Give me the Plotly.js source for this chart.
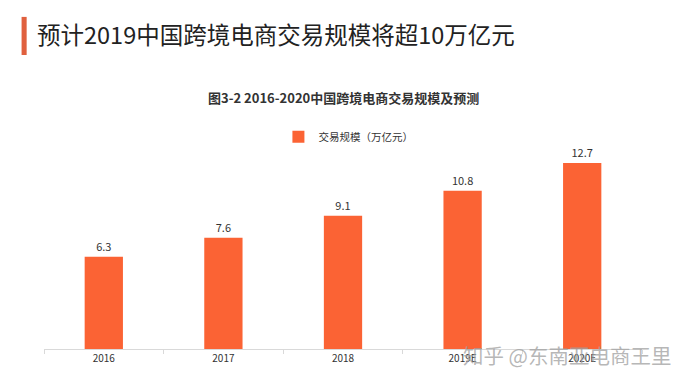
<!DOCTYPE html>
<html>
<head>
<meta charset="utf-8">
<script src="https://cdn.plot.ly/plotly-3.0.1.min.js"></script>
<style>html,body{margin:0;padding:0;background:#fff;}#chart{width:685px;height:388px;}</style>
</head>
<body>
<div id="chart"></div>
<script>
const categories = ["2016", "2017", "2018", "2019E", "2020E"];
const values = [6.3, 7.6, 9.1, 10.8, 12.7];
const valueLabels = ["6.3", "7.6", "9.1", "10.8", "12.7"];
const seriesName = "交易规模（万亿元）";
const mainTitle = "预计2019中国跨境电商交易规模将超10万亿元";
const subTitle = "图3-2 2016-2020中国跨境电商交易规模及预测";
const watermark = "知乎 @东南亚电商王里";

const FONT = '"Noto Sans CJK SC", "Noto Sans", sans-serif';

const trace = {
  type: "bar",
  x: categories,
  y: values,
  name: seriesName,
  text: valueLabels,
  textposition: "outside",
  textfont: {family: FONT, size: 11, color: "#333"},
  cliponaxis: false,
  marker: {color: "#fb6334"},
  showlegend: true
};

const layout = {
  width: 685,
  height: 388,
  margin: {l: 44, r: 43, t: 144, b: 39},
  paper_bgcolor: "#ffffff",
  plot_bgcolor: "#ffffff",
  font: {family: FONT, color: "#333"},
  bargap: 0.68,
  xaxis: {
    type: "category",
    showline: true,
    linecolor: "#d9d9d9",
    linewidth: 1,
    ticks: "outside",
    tickson: "boundaries",
    ticklen: 4,
    tickcolor: "#d9d9d9",
    showgrid: false,
    tickfont: {family: FONT, size: 10, color: "#333"},
    fixedrange: true
  },
  yaxis: {
    range: [0, 14],
    visible: false,
    showgrid: false,
    zeroline: false,
    fixedrange: true
  },
  legend: {
    orientation: "h",
    x: 0.392, xanchor: "left",
    y: 1.035, yanchor: "middle",
    font: {family: FONT, size: 10.5, color: "#333"},
    itemwidth: 30,
    bgcolor: "rgba(0,0,0,0)"
  },
  shapes: [{
    type: "rect", xref: "paper", yref: "paper",
    x0: -0.0375, x1: -0.029, y0: 1.434, y1: 1.62,
    fillcolor: "#e0603e", line: {width: 0}
  }],
  annotations: [
    {text: mainTitle, xref: "paper", yref: "paper", x: -0.0157, y: 1.535,
     xanchor: "left", yanchor: "middle", showarrow: false,
     font: {family: FONT, size: 23.5, color: "#222"}},
    {text: "<b>" + subTitle + "</b>", xref: "paper", yref: "paper", x: 0.5015, y: 1.229,
     xanchor: "center", yanchor: "middle", showarrow: false,
     font: {family: FONT, size: 13, color: "#333"}},
    {text: watermark, xref: "paper", yref: "paper", x: 0.876, y: -0.03,
     xanchor: "center", yanchor: "middle", showarrow: false,
     font: {family: FONT, size: 20.5, color: "rgba(160,160,160,0.75)"}}
  ]
};

Plotly.newPlot("chart", [trace], layout, {displayModeBar: false, staticPlot: true});
</script>
</body>
</html>
